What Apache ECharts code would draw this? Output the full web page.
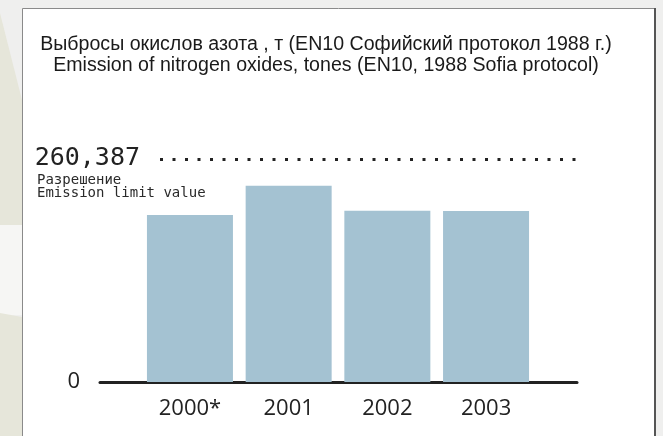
<!DOCTYPE html>
<html>
<head>
<meta charset="utf-8">
<script src="https://cdn.jsdelivr.net/npm/echarts@6/dist/echarts.min.js"></script>
<style>
  html, body { margin: 0; padding: 0; background: #efefee; }
  #chart-container { width: 663px; height: 436px; }
</style>
</head>
<body>
<div id="chart-container"></div>
<script>
const years = ['2000*', '2001', '2002', '2003'];
const emissions = [195000, 229000, 200000, 199700];
const limitValue = 260387;
const limitText = '260,387';
const zeroTicks = [0];
const yMax = 300000;

const myChart = echarts.init(document.getElementById('chart-container'));

const option = {
    animation: false,
    backgroundColor: '#efefee',
    graphic: [
        // decorative background shapes + white panel
        { type: 'polygon', silent: true, z: -10, shape: { points: [[0, 13], [22, 100], [22, 225], [0, 225]] }, style: { fill: '#e6e6da' } },
        { type: 'rect', silent: true, z: -10, shape: { x: 0, y: 225, width: 22, height: 90 }, style: { fill: '#f6f6f4' } },
        { type: 'polygon', silent: true, z: -10, shape: { points: [[0, 313], [22, 317], [22, 436], [0, 436]] }, style: { fill: '#e6e6da' } },
        { type: 'rect', silent: true, z: -9, shape: { x: 22.5, y: 8.5, width: 632, height: 440 }, style: { fill: '#fff', stroke: '#8a8a8a', lineWidth: 1 } },
        { type: 'line', silent: true, z: -8, shape: { x1: 655, y1: 8, x2: 655, y2: 436 }, style: { stroke: '#555', lineWidth: 2 } }
    ],
    title: [
        {
            text: 'Выбросы окислов азота , т (EN10 Софийский протокол 1988 г.)\nEmission of nitrogen oxides, tones (EN10, 1988 Sofia protocol)',
            left: 326,
            textAlign: 'center',
            top: 34,
            padding: 0,
            textStyle: {
                fontFamily: '"Liberation Sans Narrow", "Liberation Sans", sans-serif',
                fontWeight: 'normal',
                fontSize: 19.6,
                lineHeight: 21,
                color: '#1a1a1a'
            }
        },
        {
            text: 'Разрешение\nEmission limit value',
            left: 37,
            top: 174,
            padding: 0,
            textStyle: {
                fontFamily: '"DejaVu Sans Mono", monospace',
                fontWeight: 'normal',
                fontSize: 14,
                lineHeight: 13,
                color: '#2a2a2a'
            }
        }
    ],
    grid: [
        { left: 140.6, right: 127.6, top: 125, bottom: 54 },
        { left: 100, right: 86, top: 125, bottom: 54 },
        { left: 160, right: 86, top: 125, bottom: 54 }
    ],
    xAxis: [
        {
            gridIndex: 0,
            type: 'category',
            data: years,
            axisLine: { show: false },
            axisTick: { show: false },
            axisLabel: {
                margin: 16,
                fontFamily: '"Open Sans", sans-serif',
                fontSize: 22,
                color: '#222'
            }
        },
        {
            gridIndex: 1,
            type: 'value',
            min: 0,
            max: 1,
            axisLine: { show: true, lineStyle: { color: '#222', width: 3 } },
            axisTick: { show: false },
            axisLabel: { show: false },
            splitLine: { show: false }
        },
        {
            gridIndex: 2,
            type: 'value',
            min: 0,
            max: 1,
            show: false
        }
    ],
    yAxis: [
        { gridIndex: 0, type: 'value', min: 0, max: yMax, show: false },
        {
            gridIndex: 1,
            type: 'value',
            min: 0,
            max: yMax,
            axisLine: { show: false },
            axisTick: { show: false },
            splitLine: { show: false },
            axisLabel: {
                customValues: zeroTicks,
                margin: 20,
                fontFamily: '"Open Sans", sans-serif',
                fontSize: 22,
                color: '#222'
            }
        },
        { gridIndex: 2, type: 'value', min: 0, max: yMax, show: false }
    ],
    series: [
        {
            type: 'bar',
            xAxisIndex: 0,
            yAxisIndex: 0,
            data: emissions,
            barWidth: 86,
            itemStyle: { color: '#a4c2d2' }
        },
        {
            type: 'line',
            xAxisIndex: 2,
            yAxisIndex: 2,
            data: [],
            markLine: {
                silent: true,
                symbol: 'none',
                data: [{ yAxis: limitValue }],
                lineStyle: { color: '#222', width: 3, type: [3, 9.5], cap: 'butt' },
                label: {
                    position: 'start',
                    distance: 20,
                    formatter: limitText,
                    fontFamily: '"DejaVu Sans Mono", monospace',
                    fontSize: 25,
                    color: '#222'
                }
            }
        }
    ]
};

option && myChart.setOption(option);
</script>
</body>
</html>
